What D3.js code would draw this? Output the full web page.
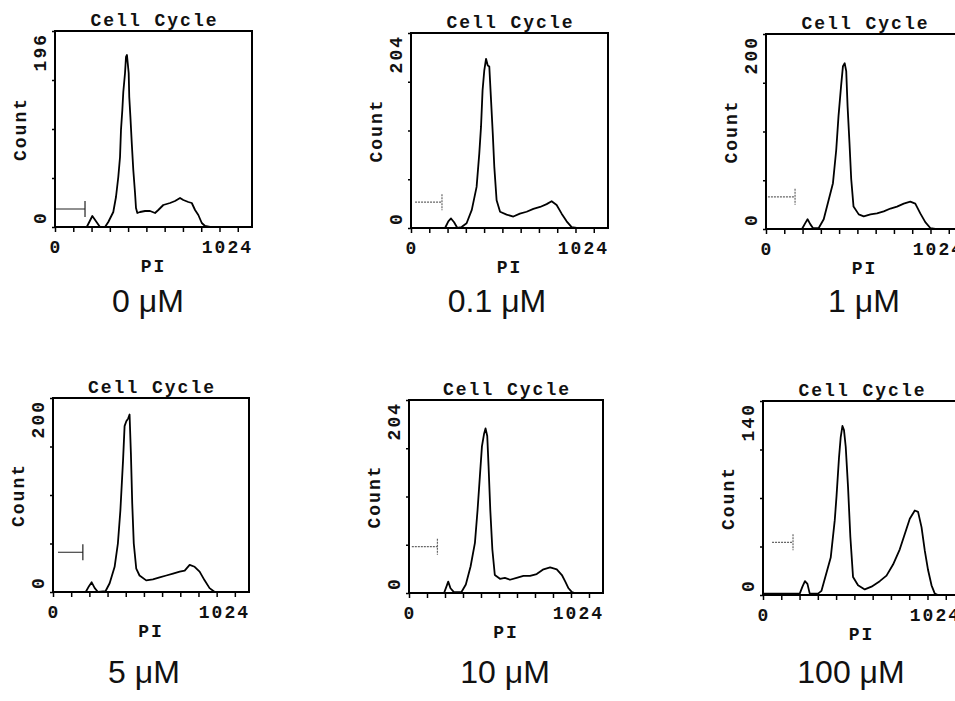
<!DOCTYPE html>
<html>
<head>
<meta charset="utf-8">
<script src="https://cdn.jsdelivr.net/npm/d3@7"></script>
<style>
  body { margin: 0; background: #fff; }
  svg { display: block; }
  .mono { font-family: "Liberation Mono", "DejaVu Sans Mono", monospace; font-weight: bold; font-size: 18px; letter-spacing: 2px; fill: #111; }
  .conc { font-family: "Liberation Sans", Arial, sans-serif; font-size: 32px; fill: #111; }
</style>
</head>
<body>
<script>
/* values: [PI channel, count] */
var hist0 = [[0,0],[165,0],[194,11],[234,0],[260,0],[277,5],[303,15],[317,30],[329,50],[338,70],[343,97],[350,117],[355,135],[364,154],[369,170],[374,172],[378,164],[383,154],[386,130],[392,110],[399,84],[407,57],[416,34],[421,19],[428,14],[442,15],[468,16],[494,16],[520,14],[537,17],[563,22],[598,24],[624,26],[650,29],[667,27],[693,25],[711,24],[728,17],[745,12],[763,4],[780,1],[806,0]];
var hist01 = [[0,0],[177,0],[194,7],[208,10],[224,6],[241,0],[263,1],[289,5],[316,19],[341,43],[355,78],[364,106],[372,144],[381,165],[390,177],[399,170],[407,169],[416,134],[425,99],[433,64],[445,29],[463,17],[497,14],[532,12],[566,15],[601,17],[636,20],[671,22],[705,25],[731,28],[757,24],[783,15],[809,7],[835,1],[861,0]];
var hist1 = [[0,0],[187,0],[204,6],[216,10],[230,5],[244,1],[274,1],[300,10],[326,30],[348,47],[365,81],[377,116],[390,146],[400,167],[409,170],[417,162],[424,126],[434,88],[443,51],[455,23],[482,15],[508,13],[543,15],[577,16],[612,18],[647,21],[681,23],[716,26],[750,28],[776,26],[802,16],[828,7],[854,1],[880,0]];
var hist5 = [[0,0],[171,0],[188,6],[202,10],[218,4],[235,0],[275,1],[296,9],[322,26],[339,50],[352,84],[366,136],[374,171],[383,176],[393,179],[400,183],[407,143],[414,91],[422,50],[435,24],[452,17],[487,12],[522,13],[557,15],[592,17],[627,19],[662,21],[688,22],[714,28],[740,26],[766,21],[792,12],[818,4],[845,0]];
var hist10 = [[0,0],[185,0],[198,7],[207,12],[219,5],[237,1],[277,1],[300,9],[325,28],[348,53],[362,88],[374,123],[385,155],[396,168],[404,174],[413,166],[420,134],[429,88],[440,46],[453,19],[480,15],[506,16],[533,14],[568,16],[604,18],[639,18],[674,20],[710,25],[745,27],[780,25],[807,19],[825,12],[842,5],[860,1],[875,0]];
var hist100 = [[0,1],[191,1],[205,6],[218,10],[231,8],[243,1],[286,1],[304,3],[330,16],[352,27],[373,54],[382,71],[395,99],[404,114],[413,122],[421,119],[430,107],[442,78],[454,42],[468,13],[494,7],[529,4],[564,6],[607,10],[642,14],[676,22],[711,33],[737,44],[763,55],[789,61],[806,60],[824,49],[841,32],[858,18],[876,7],[893,1],[910,0]];

var histograms = [hist0, hist01, hist1, hist5, hist10, hist100];
var yMaxValues = [196, 204, 200, 200, 204, 140];
var concLabels = ["0 \u03bcM", "0.1 \u03bcM", "1 \u03bcM", "5 \u03bcM", "10 \u03bcM", "100 \u03bcM"];
// gate marker: [start channel, end channel, count level]
var gates = [[0,156,18],[21,161,27],[10,151,33],[26,156,41],[15,150,49],[47,156,38]];
var xTickValues = [0,95,190,285,380,475,570,665,760,855,950];
var xTickLabels = ["0", "1024"];
var titleText = "Cell Cycle";

/* layout */
var frames = [
  {x:55, y:31, w:197, h:196},
  {x:411, y:33, w:197, h:195},
  {x:766, y:34, w:197, h:195},
  {x:53, y:398, w:196, h:194},
  {x:409, y:400, w:194, h:193},
  {x:763, y:401, w:197, h:194}
];
var concPos = [[148,312],[497,312],[864,312],[144,683],[505,683],[851,683]];

var svg = d3.select("body").append("svg")
  .attr("width", 955)
  .attr("height", 701);

function drawPanel(i) {
  var f = frames[i];
  var data = histograms[i];
  var x = d3.scaleLinear().domain([0, 1024]).range([0, f.w]);
  var y = d3.scaleLinear().domain([0, yMaxValues[i]]).range([f.h, 0]);

  var g = svg.append("g")
    .attr("transform", "translate(" + f.x + "," + f.y + ")");

  // gate marker
  var gt = gates[i];
  var solid = (i == 0 || i == 3);
  g.append("path")
    .attr("d", "M" + x(gt[0]) + "," + y(gt[2]) + "H" + x(gt[1]) +
               "M" + x(gt[1]) + "," + (y(gt[2]) - 8) + "V" + (y(gt[2]) + 8))
    .attr("fill", "none")
    .attr("stroke", solid ? "#222" : "#666")
    .attr("stroke-width", 1.2)
    .attr("stroke-dasharray", solid ? null : "2,1");

  // histogram line
  var line = d3.line()
    .x(function (d) { return x(d[0]); })
    .y(function (d) { return y(d[1]); });
  g.append("path")
    .attr("d", line(data))
    .attr("fill", "none")
    .attr("stroke", "#000")
    .attr("stroke-width", 1.8)
    .attr("stroke-linejoin", "round");

  // frame
  g.append("rect")
    .attr("width", f.w)
    .attr("height", f.h)
    .attr("fill", "none")
    .attr("stroke", "#000")
    .attr("stroke-width", 2);

  // x axis ticks, only the end labels
  var xAxis = d3.axisBottom(x).tickValues(xTickValues).tickSize(5).tickFormat("");
  var xg = g.append("g").attr("transform", "translate(0," + f.h + ")").call(xAxis);
  xg.select(".domain").remove();
  xg.selectAll("line").attr("stroke", "#000").attr("stroke-width", 1.5);

  // y axis ticks (4 divisions)
  var yMax = yMaxValues[i];
  var yAxis = d3.axisLeft(y).tickValues([0, yMax / 4, yMax / 2, yMax * 3 / 4, yMax]).tickSize(3).tickFormat("");
  var yg = g.append("g").call(yAxis);
  yg.select(".domain").remove();
  yg.selectAll("line").attr("stroke", "#000").attr("stroke-width", 1.5);

  g.append("text").attr("class", "mono")
    .attr("x", 1).attr("y", f.h + 26)
    .attr("text-anchor", "middle")
    .text(xTickLabels[0]);
  g.append("text").attr("class", "mono")
    .attr("x", f.w + 1).attr("y", f.h + 26)
    .attr("text-anchor", "end")
    .text(xTickLabels[1]);
  g.append("text").attr("class", "mono")
    .attr("x", f.w / 2).attr("y", f.h + 45)
    .attr("text-anchor", "middle")
    .text("PI");

  // rotated y labels
  g.append("text").attr("class", "mono")
    .attr("transform", "translate(-9," + 2 + ") rotate(-90)")
    .attr("text-anchor", "end")
    .text(String(yMax));
  g.append("text").attr("class", "mono")
    .attr("transform", "translate(-9," + (f.h - 3) + ") rotate(-90)")
    .attr("text-anchor", "start")
    .text("0");
  g.append("text").attr("class", "mono")
    .attr("transform", "translate(-29," + (f.h / 2) + ") rotate(-90)")
    .attr("text-anchor", "middle")
    .text("Count");

  // title
  g.append("text").attr("class", "mono")
    .attr("x", f.w / 2 + 1).attr("y", -5)
    .attr("text-anchor", "middle")
    .text(titleText);

  // concentration label
  svg.append("text").attr("class", "conc")
    .attr("x", concPos[i][0]).attr("y", concPos[i][1])
    .attr("text-anchor", "middle")
    .text(concLabels[i]);
}

for (var i = 0; i < frames.length; i++) {
  drawPanel(i);
}
</script>
</body>
</html>
